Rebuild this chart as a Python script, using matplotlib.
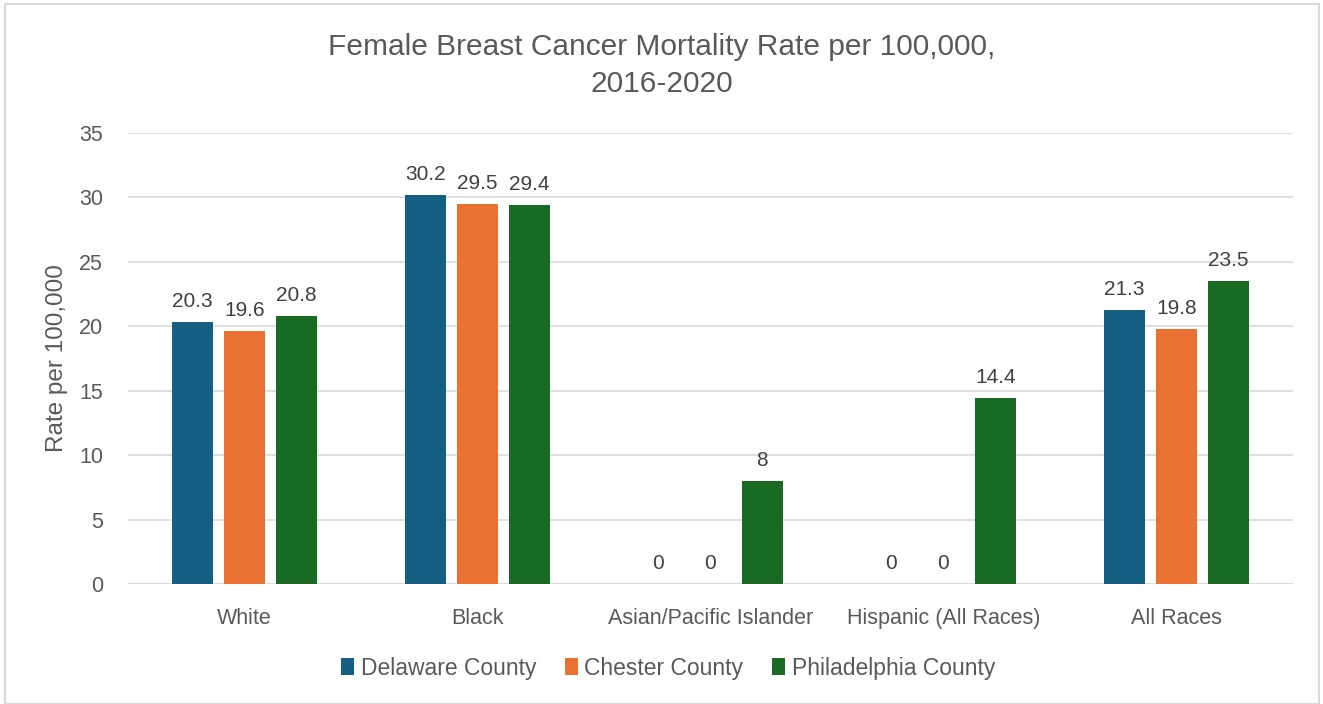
import matplotlib
matplotlib.use("Agg")
import matplotlib.pyplot as plt
import numpy as np
from matplotlib.patches import Rectangle, Patch

# Data
categories = ["White", "Black", "Asian/Pacific Islander", "Hispanic (All Races)", "All Races"]
series_names = ["Delaware County", "Chester County", "Philadelphia County"]
delaware = [20.3, 30.2, 0, 0, 21.3]
chester = [19.6, 29.5, 0, 0, 19.8]
philadelphia = [20.8, 29.4, 8, 14.4, 23.5]
y_ticks = [0, 5, 10, 15, 20, 25, 30, 35]

COLORS = ["#156082", "#E97132", "#196B24"]
TEXT = "#595959"
LABEL = "#404040"

plt.rcParams["font.family"] = ["Liberation Sans", "DejaVu Sans"]

fig = plt.figure(figsize=(13.23, 7.04), dpi=100)
ax = fig.add_axes([0.0967, 0.1705, 0.8806, 0.6406])

x = np.arange(len(categories))
step = 0.223
width = 0.176
all_series = [delaware, chester, philadelphia]
for i, (name, vals, col) in enumerate(zip(series_names, all_series, COLORS)):
    pos = x + (i - 1) * step
    bars = ax.bar(pos, vals, width=width, color=col, label=name, zorder=3)
    for b, v in zip(bars, vals):
        txt = f"{v:g}"
        ax.text(b.get_x() + b.get_width() / 2, v + 0.85, txt,
                ha="center", va="bottom", fontsize=15, color=LABEL)

ax.set_xlim(-0.5, len(categories) - 0.5)
ax.set_ylim(0, 35)
ax.set_yticks(y_ticks)
ax.set_xticks(x)
ax.set_xticklabels(categories)
ax.tick_params(axis="both", length=0, labelsize=15.5, labelcolor=TEXT)
ax.tick_params(axis="x", pad=17)
ax.tick_params(axis="y", pad=18)
ax.grid(True, axis="y", color="#D9D9D9", linewidth=1.2, zorder=0)
for s in ax.spines.values():
    s.set_visible(False)
ax.axhline(0, color="#D9D9D9", linewidth=1.2, zorder=2)

ax.set_ylabel("Rate per 100,000", fontsize=17.5, color=TEXT, labelpad=8)

fig.text(0.5, 0.907, "Female Breast Cancer Mortality Rate per 100,000,\n2016-2020",
         ha="center", va="center", fontsize=21.5, color=TEXT,
         linespacing=1.42)

handles = [Patch(facecolor=c, label=n) for c, n in zip(COLORS, series_names)]
leg = fig.legend(handles=handles, loc="center", bbox_to_anchor=(0.505, 0.051),
                 ncol=3, frameon=False, fontsize=16.5, handlelength=0.55,
                 handleheight=0.75, handletextpad=0.3, columnspacing=1.25)
for t in leg.get_texts():
    t.set_color(TEXT)

fig.patches.append(Rectangle((0.004, 0.0), 0.993, 0.995, transform=fig.transFigure,
                             fill=False, edgecolor="#D9D9D9", linewidth=1.5))

fig.savefig("out.png", dpi=100)
